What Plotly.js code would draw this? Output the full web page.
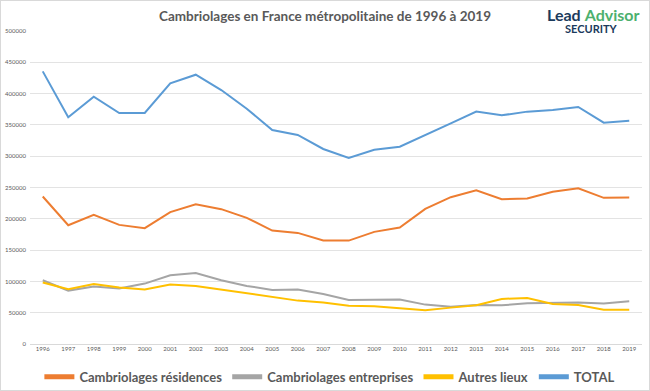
<!DOCTYPE html>
<html>
<head>
<meta charset="utf-8">
<script src="https://cdn.plot.ly/plotly-3.0.1.min.js"></script>
<style>
  html, body { margin: 0; padding: 0; background: #ffffff; }
  #chart { width: 648px; height: 389px; border: 1px solid #d9d9d9; }
</style>
</head>
<body>
<div id="chart"></div>
<script>
const years = ['1996','1997','1998','1999','2000','2001','2002','2003','2004','2005','2006','2007','2008','2009','2010','2011','2012','2013','2014','2015','2016','2017','2018','2019'];

const residences = [235600,189800,206300,190300,185000,210600,223300,215400,201500,181200,177500,165200,165200,179100,186000,215900,234500,245700,231300,232400,243100,248900,233500,234000];
const entreprises = [101800,85300,91700,88500,96500,109800,113500,101800,92800,86400,86900,80000,70400,70900,70900,62900,59700,62400,61800,65000,66100,66100,64500,68200];
const autres = [98100,87400,95900,90100,86900,94900,92800,86900,80500,74100,69300,66100,61300,60200,57600,53800,58100,61800,72000,73600,64000,62400,54900,54900];
const total = [435500,362100,395000,369000,369000,416400,430200,405700,375900,341900,333900,311500,297100,310400,315200,333300,352500,371200,365300,371200,373800,378600,353600,356700];

const names = ['Cambriolages résidences','Cambriolages entreprises','Autres lieux','TOTAL'];
const colors = ['#ED7D31','#A5A5A5','#FFC000','#5B9BD5'];
const series = [residences, entreprises, autres, total];

const FONT = 'Lato, "Open Sans", sans-serif';
const traces = [];
series.forEach((vals, i) => {
  traces.push({
    type: 'scatter', mode: 'lines', x: years, y: vals, name: names[i],
    line: {color: colors[i], width: 2}, showlegend: false, legendgroup: 'g' + i
  });
});
series.forEach((vals, i) => {
  traces.push({
    type: 'scatter', mode: 'lines', x: [null], y: [null], name: names[i],
    line: {color: colors[i], width: 5}, showlegend: true, legendgroup: 'g' + i
  });
});

const layout = {
  width: 648, height: 389,
  margin: {l: 29, r: 7, t: 30, b: 46, autoexpand: false},
  paper_bgcolor: '#ffffff', plot_bgcolor: '#ffffff',
  font: {family: FONT, color: '#595959'},
  title: {
    text: 'Cambriolages en France métropolitaine de 1996 à 2019',
    font: {family: FONT, size: 13.5, color: '#595959', weight: 'bold'},
    x: 0.5, xref: 'container', xanchor: 'center',
    y: 0.96, yref: 'container', yanchor: 'middle'
  },
  xaxis: {
    type: 'category', range: [-0.5, 23.5], showgrid: false, zeroline: false,
    showline: false, ticks: '', tickfont: {size: 6, color: '#595959'},
    fixedrange: true
  },
  yaxis: {
    range: [0, 500000], dtick: 50000, tickformat: 'd',
    showgrid: true, gridcolor: '#e3e3e3', gridwidth: 1,
    zeroline: true, zerolinecolor: '#d9d9d9', zerolinewidth: 1,
    showline: false, ticks: '', tickfont: {size: 6, color: '#595959'},
    ticklabelstandoff: 3, fixedrange: true
  },
  legend: {
    orientation: 'h', x: 0.49, xanchor: 'center', y: -0.105, yanchor: 'middle',
    font: {family: FONT, size: 13, color: '#595959', weight: 'bold'},
    itemwidth: 30, bgcolor: 'rgba(0,0,0,0)', traceorder: 'normal'
  },
  shapes: [
    {type: 'rect', xref: 'paper', yref: 'paper', x0: 0.822, x1: 1.02, y0: 0.985, y1: 1.12,
     fillcolor: '#ffffff', line: {width: 0}, layer: 'above'}
  ],
  annotations: [
    {text: '<b>Lead</b> <b><span style="color:#4CB06E">Advisor</span></b>', xref: 'paper', yref: 'paper',
     x: 1.0, xanchor: 'right', y: 1.054, yanchor: 'middle', showarrow: false,
     font: {family: FONT, size: 16, color: '#1B3A5C'}},
    {text: '<b>SECURITY</b>', xref: 'paper', yref: 'paper',
     x: 0.917, xanchor: 'center', y: 1.008, yanchor: 'middle', showarrow: false,
     font: {family: FONT, size: 11, color: '#1B3A5C'}}
  ],
  hovermode: false
};

Plotly.newPlot('chart', traces, layout, {displayModeBar: false, staticPlot: true});
</script>
</body>
</html>
